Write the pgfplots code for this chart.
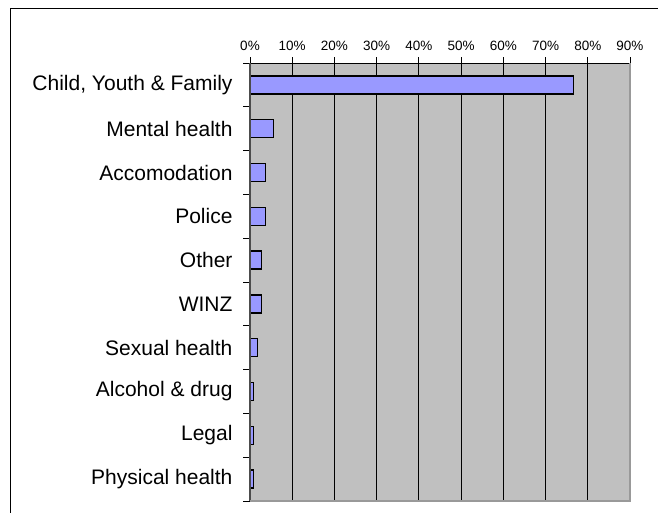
\documentclass[border=0pt]{standalone}
\usepackage{pgfplots}
\pgfplotsset{compat=1.18}
\usepackage{fontspec}
\setmainfont{Liberation Sans}
\definecolor{barblue}{HTML}{9999FF}
\definecolor{plotbg}{HTML}{C0C0C0}
\begin{document}
\begin{tikzpicture}
\useasboundingbox (0pt,0pt) rectangle (658pt,-512pt);
\clip (0pt,0pt) rectangle (658pt,-512pt);
\draw[black, line width=1pt] (10pt,-530pt) -- (10pt,-8pt) -- (680pt,-8pt);
\begin{axis}[
  at={(250pt,-501pt)}, anchor=south west,
  width=380pt, height=438pt, scale only axis,
  xmin=0, xmax=90, ymin=-0.5, ymax=9.5,
  axis background/.style={fill=plotbg},
  axis line style={draw=none},
  xtick={0,10,...,90},
  xticklabel={\pgfmathprintnumber{\tick}\%},
  xtick pos=upper, xticklabel pos=upper,
  ytick={0,...,9},
  yticklabels={Physical health,Legal,Alcohol \& drug,Sexual health,WINZ,Other,Police,Accomodation,Mental health,{Child, Youth \& Family}},
  ytick pos=left,
  major y tick style={draw=none},
  minor y tick style={black, line width=0.8pt},
  minor ytick={-0.5,0.5,...,9.5},
  minor tick length=7pt,
  major tick length=6pt,
  tick align=outside,
  major x tick style={black, line width=0.8pt},
  xmajorgrids,
  grid style={black, line width=0.8pt},
  /pgf/number format/assume math mode=true,
  xticklabel style={font=\fontsize{13.5}{16}\selectfont, yshift=3pt},
  yticklabel style={font=\fontsize{21}{25}\selectfont, xshift=-8pt},
  clip=false,
]
\addplot[xbar, bar width=18pt, fill=barblue, draw=black, line width=1.3pt]
  coordinates {(76.6,9) (5.5,8) (3.6,7) (3.6,6) (2.75,5) (2.75,4) (1.8,3) (0.9,2) (0.9,1) (0.9,0)};
\draw[black, line width=0.9pt] (rel axis cs:0,1) -- (rel axis cs:1,1);
\draw[black!70, line width=1.5pt] (rel axis cs:0,0) -- (rel axis cs:0,1);
\draw[black!40, line width=1.2pt] (rel axis cs:0,0) -- (rel axis cs:1,0) -- (rel axis cs:1,1);
\end{axis}
\end{tikzpicture}
\end{document}
